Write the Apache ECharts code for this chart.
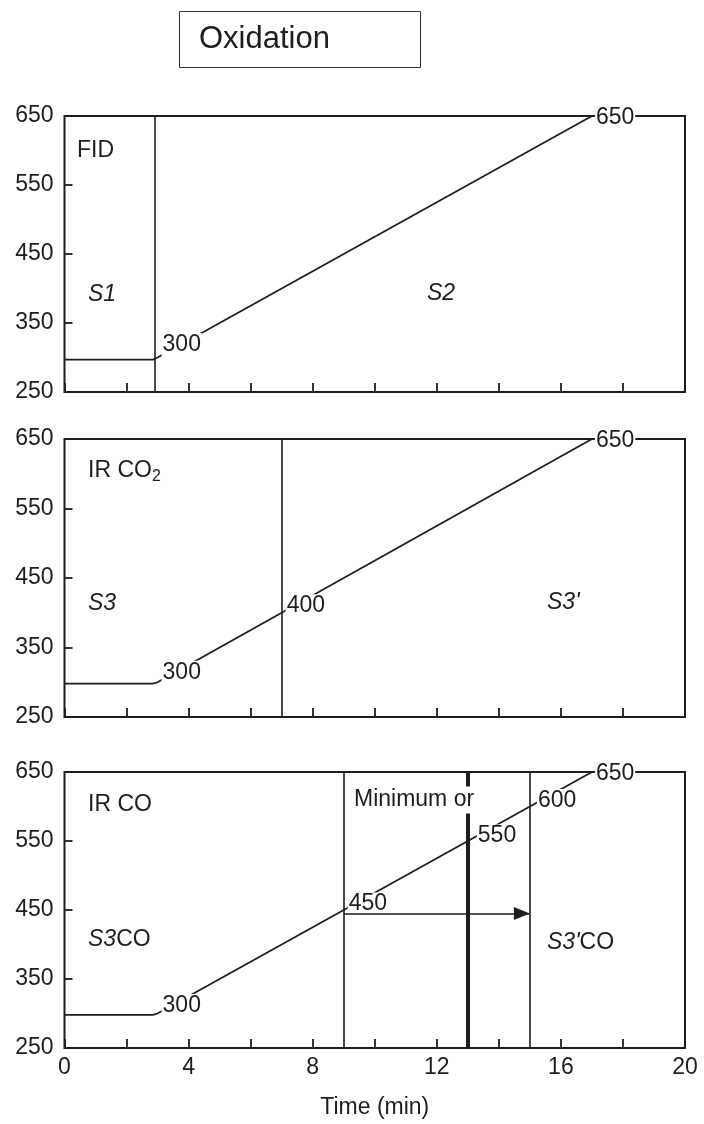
<!DOCTYPE html>
<html>
<head>
<meta charset="utf-8">
<script src="https://cdn.jsdelivr.net/npm/echarts@6/dist/echarts.min.js"></script>
<style>
    html, body { margin: 0; padding: 0; background: #fff; }
    #main { width: 704px; height: 1124px; }
</style>
</head>
<body>
<div id="main"></div>
<script>
// tick labels
var timeLabels = [0, 4, 8, 12, 16, 20];
var tempLabels = [250, 350, 450, 550, 650];
var tempTicks = [350, 450, 550];

// FID panel
var fidTime = [0, 2.85, 3, 17];
var fidTemp = [297, 297, 300, 650];
var fidMarked = [300, 650];
var fidCut = [2.9];

// IR CO2 panel
var co2Time = [0, 2.85, 3, 7, 17];
var co2Temp = [298, 298, 300, 400, 650];
var co2Marked = [300, 400, 650];
var co2Cut = [7];

// IR CO panel
var coTime = [0, 2.85, 3, 9, 13, 15, 17];
var coTemp = [298, 298, 300, 450, 550, 600, 650];
var coMarked = [300, 450, 550, 600, 650];
var coCut = [9, 13, 15];
var coArrowTime = [9, 15];
var coArrowTemp = [445, 445];

var FONT = '"Liberation Sans", Arial, Helvetica, sans-serif';
var INK = '#1e1e1e';

var myChart = echarts.init(document.getElementById('main'));

// label tweaks per panel (pixel nudges only)
var labelNudge = [
    {300: [4, -13], 650: [3, 2]},
    {300: [4, -10], 400: [4, -7], 650: [3, 2]},
    {300: [4, -8], 450: [4, -6], 550: [9, -5], 600: [7, -6], 650: [3, 2]}
];

function buildData(times, temps, marked, nudge) {
    return times.map(function (t, i) {
        var v = temps[i];
        if (marked.indexOf(v) < 0 || (i > 0 && temps[i - 1] === v)) {
            return [t, v];
        }
        return {
            value: [t, v],
            label: {
                show: true,
                position: 'right',
                distance: nudge[v][0],
                offset: [0, nudge[v][1]],
                formatter: String(v),
                color: INK,
                fontSize: 23,
                fontFamily: FONT,
                backgroundColor: '#fff',
                padding: [0, 1]
            }
        };
    });
}

var grids = [
    {left: 64.5, right: 19, top: 116, height: 276},
    {left: 64.5, right: 19, top: 439, height: 278},
    {left: 64.5, right: 19, top: 772, height: 276}
].map(function (g) {
    g.show = true;
    g.borderColor = INK;
    g.borderWidth = 2;
    g.backgroundColor = 'transparent';
    return g;
});

var xAxes = [0, 1, 2].map(function (i) {
    return {
        gridIndex: i,
        type: 'value',
        min: 0,
        max: 20,
        interval: 2,
        axisLine: {show: false},
        axisTick: {show: true, inside: true, length: 9, lineStyle: {color: INK, width: 1.8}},
        axisLabel: {
            show: i === 2,
            customValues: timeLabels,
            margin: 8,
            color: INK,
            fontSize: 23,
            fontFamily: FONT
        },
        splitLine: {show: false},
        name: i === 2 ? 'Time (min)' : '',
        nameLocation: 'middle',
        nameGap: 48,
        nameTextStyle: {color: INK, fontSize: 23, fontFamily: FONT}
    };
});

var yAxes = [0, 1, 2].map(function (i) {
    return {
        gridIndex: i,
        type: 'value',
        min: 250,
        max: 650,
        axisLine: {show: false},
        axisTick: {show: true, inside: true, length: 8, customValues: tempTicks, lineStyle: {color: INK, width: 1.8}},
        axisLabel: {
            customValues: tempLabels,
            margin: 11,
            color: INK,
            fontSize: 23,
            fontFamily: FONT
        },
        splitLine: {show: false}
    };
});

function cutLines(cuts, widths) {
    return cuts.map(function (c, k) {
        return {xAxis: c, lineStyle: {width: widths ? widths[k] : 1.6}};
    });
}

var lineBase = {
    type: 'line',
    symbol: 'circle',
    symbolSize: 0,
    lineStyle: {color: INK, width: 1.8},
    itemStyle: {color: INK},
    animation: false
};

var markBase = function (data) {
    return {
        silent: true,
        symbol: 'none',
        label: {show: false},
        lineStyle: {color: INK, width: 1.6, type: 'solid'},
        data: data
    };
};

var coMarks = cutLines(coCut, [1.6, 4, 1.6]);
coMarks.push([
    {coord: [coArrowTime[0], coArrowTemp[0]], symbol: 'none'},
    {coord: [coArrowTime[1], coArrowTemp[1]], symbol: 'triangle', symbolSize: [13, 16], symbolOffset: [0, 8]}
]);

var series = [
    echarts.util.merge({
        xAxisIndex: 0, yAxisIndex: 0,
        data: buildData(fidTime, fidTemp, fidMarked, labelNudge[0]),
        markLine: markBase(cutLines(fidCut))
    }, lineBase),
    echarts.util.merge({
        xAxisIndex: 1, yAxisIndex: 1,
        data: buildData(co2Time, co2Temp, co2Marked, labelNudge[1]),
        markLine: markBase(cutLines(co2Cut))
    }, lineBase),
    echarts.util.merge({
        xAxisIndex: 2, yAxisIndex: 2,
        data: buildData(coTime, coTemp, coMarked, labelNudge[2]),
        markLine: markBase(coMarks)
    }, lineBase)
];

function note(x, y, text, rich, bg) {
    return {
        type: 'text',
        x: x,
        y: y,
        z: 100,
        style: {
            text: text,
            fill: INK,
            fontSize: 23,
            fontFamily: FONT,
            verticalAlign: 'middle',
            align: 'left',
            rich: rich || {},
            backgroundColor: bg ? '#fff' : null,
            padding: bg ? [2, 2] : 0
        }
    };
}

var richIt = {
    it: {fontStyle: 'italic', fontSize: 23, fontFamily: FONT, fill: INK},
    sub: {fontSize: 16, fontFamily: FONT, fill: INK, padding: [12, 0, 0, 0]}
};

var option = {
    backgroundColor: '#fff',
    animation: false,
    title: {
        text: 'Oxidation',
        left: 179,
        top: 11,
        borderColor: '#333',
        borderWidth: 1,
        padding: [11, 91, 11, 20],
        textStyle: {fontSize: 31, fontWeight: 'normal', lineHeight: 35, color: INK, fontFamily: FONT}
    },
    grid: grids,
    xAxis: xAxes,
    yAxis: yAxes,
    series: series,
    graphic: [
        note(77, 151, 'FID'),
        note(88, 295, '{it|S1}', richIt),
        note(427, 294, '{it|S2}', richIt),
        note(88, 471, 'IR CO{sub|2}', richIt),
        note(88, 604, '{it|S3}', richIt),
        note(547, 603, '{it|S3\'}', richIt),
        note(88, 805, 'IR CO'),
        note(352, 800, 'Minimum or', null, true),
        note(88, 940, '{it|S3}CO', richIt),
        note(547, 943, '{it|S3\'}CO', richIt)
    ]
};
myChart.setOption(option);
</script>
</body>
</html>
